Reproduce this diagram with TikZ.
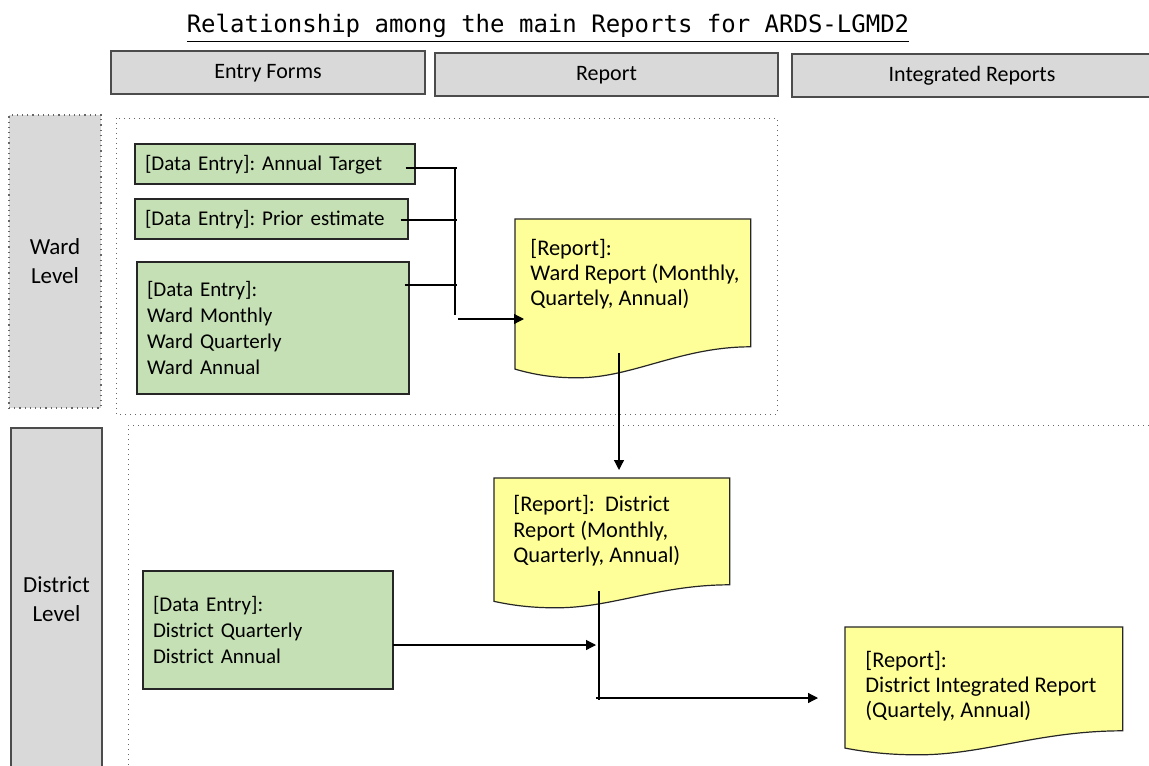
\documentclass[tikz,border=0pt]{standalone}
\usepackage{fontspec}
\setmainfont{Carlito}
\newfontfamily\titlefont{DejaVu Sans Mono}
\usetikzlibrary{calc,arrows.meta}
\definecolor{hdrgray}{HTML}{D9D9D9}
\definecolor{entrygreen}{HTML}{C5E0B4}
\definecolor{repyellow}{HTML}{FFFF99}
\definecolor{edgecol}{HTML}{262626}
\frenchspacing
\newcommand\docshape[2]{\draw[docline] (#1.north west) -- (#1.north east) -- (#1.south east)
 .. controls ($(#1.south west)!0.7!(#1.south east)$) and ($(#1.south west)!0.5!(#1.south east)+(0,#2)$) .. ($(#1.south west)!0.265!(#1.south east)+(0,#2)$)
 .. controls ($(#1.south west)!0.18!(#1.south east)+(0,#2)$) and ($(#1.south west)!0.1!(#1.south east)+(0,{0.94*#2})$) .. ($(#1.south west)+(0,{0.72*#2})$) -- cycle;}
\tikzset{
  hdr/.style={draw=gray!60!black, fill=hdrgray, line width=0.7pt, font=\fontsize{11}{13}\selectfont, inner sep=0pt, text height=6.5pt, text depth=0pt},
  lvl/.style={fill=hdrgray, font=\fontsize{11.5}{14.5}\selectfont, align=center, inner sep=0pt},
  entry/.style={draw=edgecol, fill=entrygreen, line width=0.7pt, font=\fontsize{10.5}{13}\selectfont, align=left, inner xsep=5pt, inner ysep=0pt},
  docline/.style={draw=edgecol, fill=repyellow, line width=0.6pt},
  docbox/.style={anchor=north west, inner sep=0pt},
  doctext/.style={font=\fontsize{11.2}{12.6}\selectfont, align=left, anchor=north west, inner sep=0pt},
  conn/.style={line width=0.6pt, black},
  arr/.style={conn, -{Triangle[length=5pt,width=5pt]}},
  framebox/.style={draw=gray!80!black, dotted, line width=0.5pt}
}
\begin{document}
\begin{tikzpicture}[x=0.5pt,y=-0.5pt]
\useasboundingbox (0,0) rectangle (1149,765);
\clip (0,0) rectangle (1149,765);
\fill[white] (0,0) rectangle (1149,765);

% title
\node[font=\titlefont\fontsize{12}{14}\selectfont, anchor=base, inner sep=0pt] (title) at (548,33) {\underline{Relationship among the main Reports for ARDS-LGMD2}};

% header boxes
\node[hdr, minimum width=157pt, minimum height=21.5pt] (hEF) at (268,72.5) {Entry Forms};
\node[hdr, minimum width=171.5pt, minimum height=21.5pt] (hRP) at (606.5,74.5) {Report};
\node[hdr, minimum width=180pt, minimum height=21.5pt] (hIR) at (972,75.5) {Integrated Reports};

% level boxes
\node[lvl, draw=gray!80!black, dotted, line width=0.6pt, minimum width=46pt, minimum height=146.5pt] (lW) at (55,261.5) {\raisebox{0pt}[8pt][0pt]{Ward}\\Level};
\node[lvl, draw=gray!60!black, line width=0.7pt, minimum width=45.5pt, minimum height=171pt] (lD) at (56.5,599) {District\\Level};

% containers
\draw[framebox] (116,118) rectangle (777,414);
\draw[framebox] (128,780) -- (128,425) -- (1160,425);

% entry boxes
\node[entry, text width=130pt, minimum height=20pt] (a1) at (275,164) {\raisebox{0pt}[6pt][0pt]{[Data Entry]: Annual Target}};
\node[entry, text width=126.5pt, minimum height=20pt] (a2) at (271.5,219) {\raisebox{0pt}[6pt][0pt]{[Data Entry]: Prior estimate}};
\node[entry, text width=126pt, minimum height=66pt] (a3) at (273,328) {[Data Entry]:\\Ward Monthly\\Ward Quarterly\\Ward Annual};
\node[entry, text width=115pt, minimum height=59pt] (d1) at (268,630) {[Data Entry]:\\District Quarterly\\District Annual};

% report documents
\node[docbox, minimum width=117.5pt, minimum height=63.5pt] (wr) at (515,219) {};
\docshape{wr}{31}
\node[doctext] (wrt) at (530,238.5) {[Report]:\\Ward Report (Monthly,\\Quartely, Annual)};

\node[docbox, minimum width=117.5pt, minimum height=53pt] (dr) at (494,478) {};
\docshape{dr}{23}
\node[doctext] (drt) at (513,495.4) {[Report]:~\ District\\Report (Monthly,\\Quarterly, Annual)};

\node[docbox, minimum width=138.5pt, minimum height=51.5pt] (di) at (845,627) {};
\docshape{di}{24}
\node[doctext] (dit) at (865,651) {[Report]:\\District Integrated Report\\(Quartely, Annual)};

% ward connectors
\coordinate (wbus) at (457,168);
\coordinate (wbt) at (455,168);
\coordinate (wbb) at (455,315);
\draw[conn] ([xshift=-5pt,yshift=-2pt]a1.east) -- ([yshift=-2pt]a1.east -| wbus);
\draw[conn] ([xshift=-4pt,yshift=-0.5pt]a2.east) -- ([yshift=-0.5pt]a2.east -| wbus);
\draw[conn] ([xshift=-2.5pt]a3.north east |- 0,285) -- (wbus |- 0,285);
\draw[conn] (wbt) -- (wbb);
\coordinate (wst) at (458,319);
\draw[arr] (wst) -- ([xshift=4.5pt]wst -| wr.west);

% ward report to district report
\coordinate (w2) at (619,353);
\draw[arr] (w2) -- ([yshift=4pt]w2 |- dr.north);

% district connectors
\coordinate (dbt) at (599,591);
\coordinate (dbb) at (599,700);
\draw[conn] (dbt) -- (dbb);
\draw[arr] (393,645) -- ([xshift=-1.5pt]dbt |- 0,645);
\coordinate (dj) at (596,698);
\draw[arr] (dj) -- ([xshift=-13.5pt]dj -| di.west);
\end{tikzpicture}
\end{document}
